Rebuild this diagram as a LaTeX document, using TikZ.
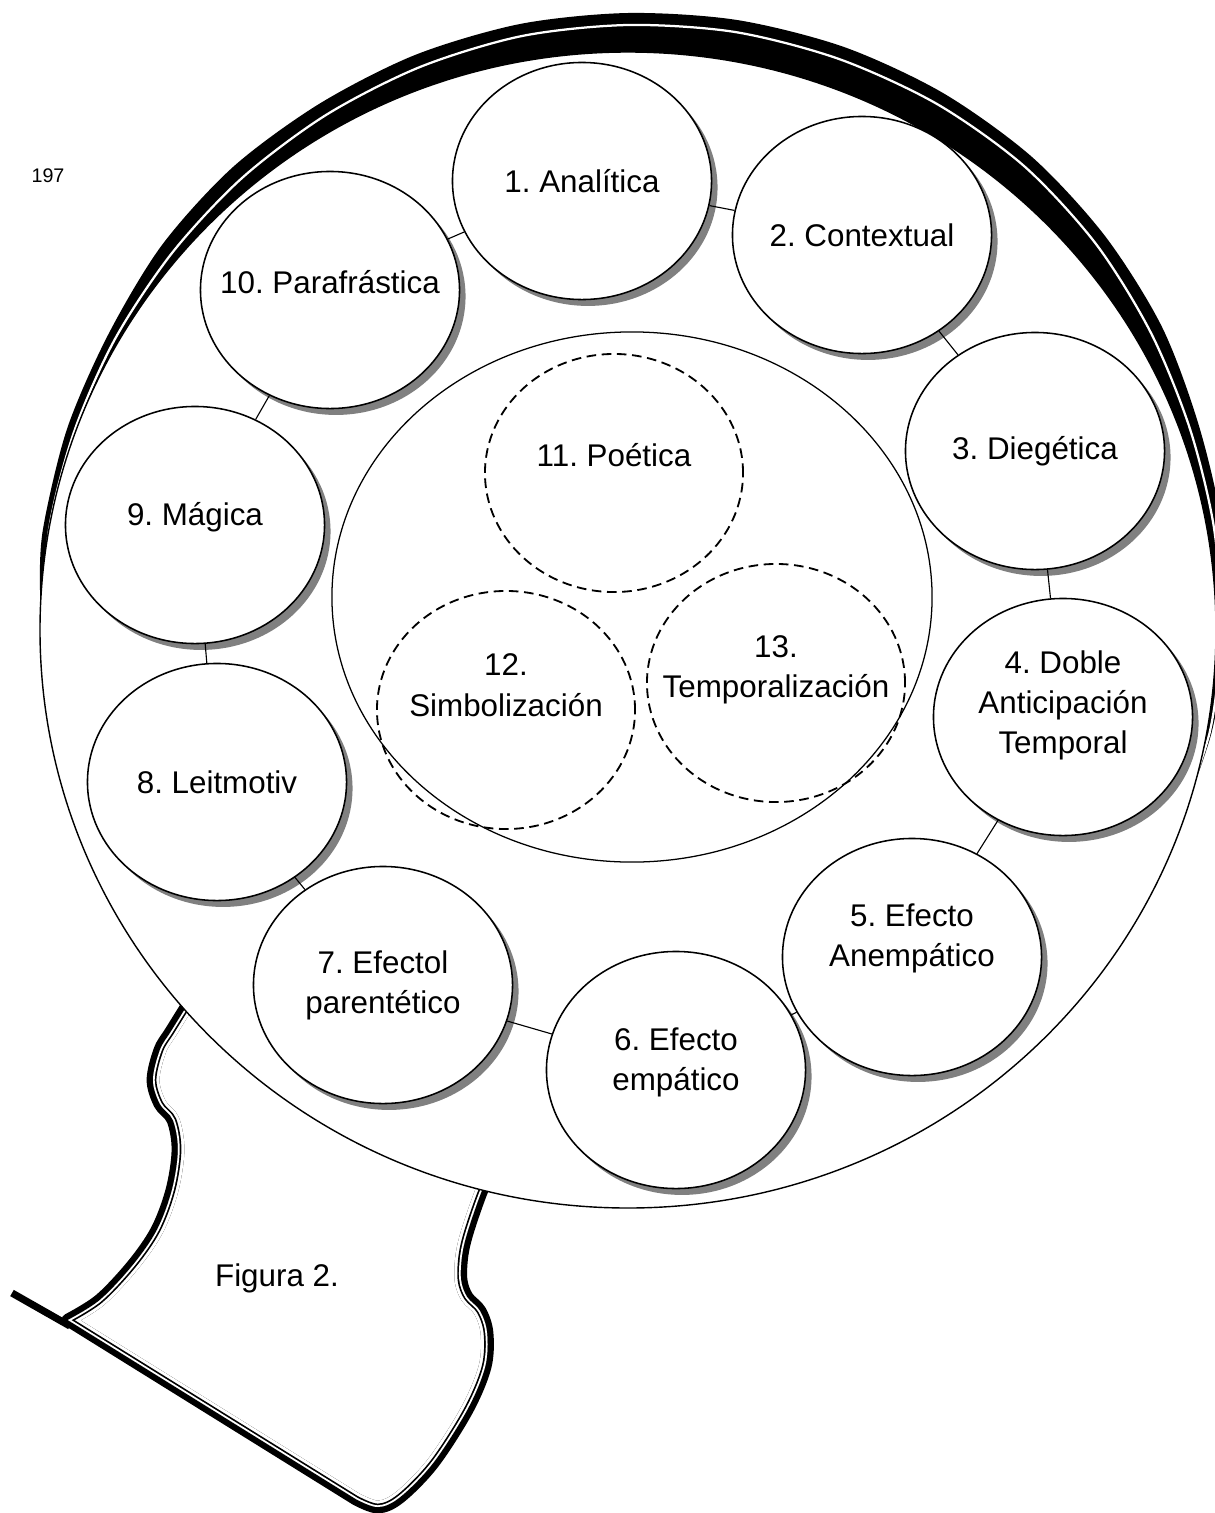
\documentclass[tikz,border=0pt]{standalone}
\usepackage{fontspec}
\setmainfont{Liberation Sans}
\usetikzlibrary{shapes.geometric,shadows}
\frenchspacing

\tikzset{
  ring/.style={ellipse, draw, fill=white, line width=1.1pt, minimum width=6.475cm, minimum height=5.925cm, inner sep=0pt,
    drop shadow={shadow xshift=0.15cm, shadow yshift=-0.16cm, fill=black!50, opacity=1}},
  venn/.style={ellipse, draw, line width=1.3pt, dash pattern=on 0.24cm off 0.14cm, minimum width=6.45cm, minimum height=5.95cm, inner sep=0pt},
  ringtext/.style={align=center, font=\fontsize{22.3}{28.5}\selectfont, inner sep=0pt},
  link/.style={line width=0.8pt}
}

\newcommand{\handlepath}{plot[smooth, tension=0.55] coordinates {(200,985) (172,1030) (160,1050) (153,1080) (160,1104) (173,1120) (178,1150) (172,1190) (157,1230) (133,1265) (100,1300) (68,1320)} -- plot[smooth, tension=0.55] coordinates {(356,1499) (378,1507) (400,1497) (433,1463) (467,1410) (485,1367) (487,1333) (480,1311) (467,1297) (461,1280) (462,1255) (468,1230) (482,1190) (497,1158)} -- cycle}

\begin{document}
\begin{tikzpicture}[x=0.025cm, y=-0.025cm]
\useasboundingbox (0,0) rectangle (1215,1513);
\clip (0,0) rectangle (1215,1513);

% handle
\draw[line width=0.32cm, line join=round] \handlepath;
\draw[line width=0.18cm] (12,1293) -- (70,1326);
\begin{scope}
  \clip \handlepath;
  \draw[white, line width=0.32cm, line join=round] \handlepath;
  \draw[line width=0.17cm, line join=round] \handlepath;
  \draw[white, line width=0.085cm, line join=round] \handlepath;
\end{scope}

% rim
\fill plot[smooth] coordinates {(1178,827) (1212,731) (1226,630) (1222,527) (1199,426) (1162,327) (1105,236) (1032,157) (943,93) (844,47) (737,20) (628,13) (520,24) (415,55) (319,104) (233,167) (162,245) (108,335) (67,429) (43,529) (40,590) (44,630) (59,729)} -- cycle;
\draw[white, line width=1.6pt] plot[smooth] coordinates {(1177,826) (1210,731) (1221,630) (1214,528) (1190,429) (1151,333) (1096,244) (1024,166) (937,104) (839,59) (735,32) (628,25) (522,36) (420,67) (326,115) (242,178) (172,253) (115,339) (74,432) (49,530) (44,630)};

% glass
\filldraw[fill=white, line width=1pt] (628,630) ellipse [x radius=588, y radius=578];

\node[ellipse, draw, line width=0.9pt, minimum width=15cm, minimum height=13.25cm] (core) at (632,597) {};

\node[venn, label={[ringtext, yshift=0.45cm]center:11. Poética}] (v11) at (614,473) {};
\node[venn, label={[ringtext, yshift=0.62cm]center:{12.\\Simbolización}}] (v12) at (506,710) {};
\node[venn, label={[ringtext, yshift=0.33cm]center:{13.\\Temporalización}}] (v13) at (776,683) {};

\node[ring, label={[ringtext]center:1. Analítica}] (n1) at (582,181) {};
\node[ring, label={[ringtext]center:2. Contextual}] (n2) at (862,235) {};
\node[ring, label={[ringtext]center:3. Diegética}] (n3) at (1035,451) {};
\node[ring, label={[ringtext, yshift=0.3cm]center:{4. Doble\\Anticipación\\Temporal}}] (n4) at (1063,717) {};
\node[ring, label={[ringtext, yshift=0.47cm]center:{5. Efecto\\Anempático}}] (n5) at (912,957) {};
\node[ring, label={[ringtext, yshift=0.2cm]center:{6. Efecto\\empático}}] (n6) at (676,1070) {};
\node[ring, label={[ringtext]center:{7. Efectol\\parentético}}] (n7) at (383,985) {};
\node[ring, label={[ringtext]center:8. Leitmotiv}] (n8) at (217,782) {};
\node[ring, label={[ringtext, yshift=0.2cm]center:9. Mágica}] (n9) at (195,525) {};
\node[ring, label={[ringtext, yshift=0.2cm]center:10. Parafrástica}] (n10) at (330,290) {};

\foreach \a/\b in {n1/n2, n2/n3, n3/n4, n4/n5, n5/n6, n6/n7, n7/n8, n8/n9, n9/n10, n10/n1}
  \draw[link] (\a) -- (\b);

\node[font=\fontsize{14}{16}\selectfont] (pagenum) at (48,176) {197};
\node[ringtext] (caption) at (277,1278) {Figura 2.};
\end{tikzpicture}
\end{document}
